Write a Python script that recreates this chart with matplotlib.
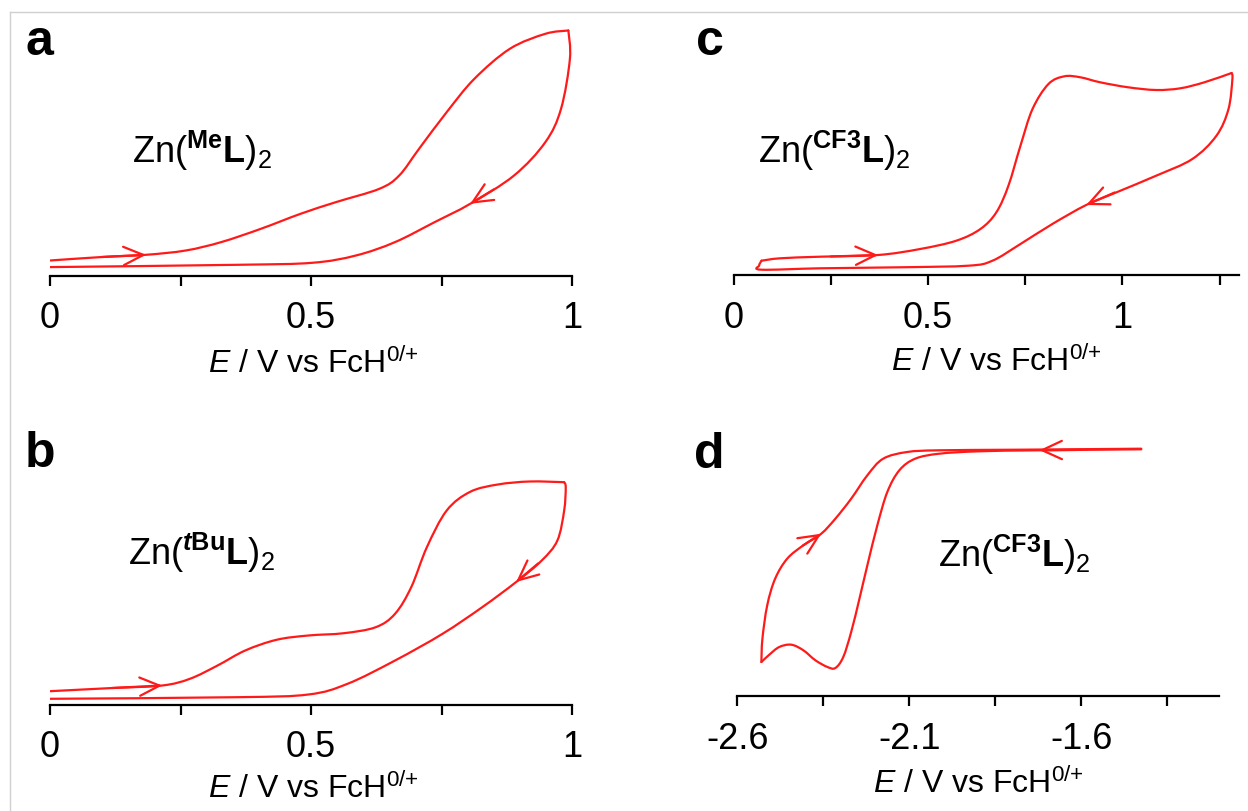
import matplotlib
matplotlib.use("Agg")
import matplotlib.pyplot as plt
import numpy as np
from matplotlib.lines import Line2D
from matplotlib.path import Path
from matplotlib.patches import PathPatch

plt.rcParams['font.family'] = ['Liberation Sans', 'DejaVu Sans']
plt.rcParams['mathtext.fontset'] = 'custom'
plt.rcParams['mathtext.rm'] = 'Liberation Sans'
plt.rcParams['mathtext.it'] = 'Liberation Sans:italic'
plt.rcParams['mathtext.bf'] = 'Liberation Sans:bold'
plt.rcParams['mathtext.bfit'] = 'Liberation Sans:italic:bold'

W, H = 1248, 812
RED = '#ff1a1a'

# current values are in arbitrary units (height above the baseline)
# panel a : Zn(MeL)2, oxidation
a_fwd_E = [0.0, 0.10, 0.184, 0.26, 0.328, 0.404, 0.48, 0.548, 0.631, 0.669, 0.707, 0.76, 0.813, 0.881, 0.949, 0.993]
a_fwd_i = [15, 18.5, 20.7, 25, 33.4, 46.7, 61.7, 73.4, 86.7, 100, 126.7, 163.4, 196.7, 226.7, 241.7, 245]
a_rev_E = [0.993, 0.996, 0.979, 0.949, 0.889, 0.805, 0.737, 0.661, 0.586, 0.502, 0.359, 0.0]
a_rev_i = [245, 216.7, 166.7, 133.4, 100, 71.7, 53.4, 33.4, 20, 12.7, 10.7, 8.4]

# panel b : Zn(tBuL)2, oxidation
b_fwd_E = [0.0, 0.12, 0.215, 0.268, 0.321, 0.374, 0.434, 0.495, 0.563, 0.624, 0.661, 0.692, 0.722, 0.76, 0.805, 0.858, 0.919, 0.985]
b_fwd_i = [13.3, 16.5, 19, 25.7, 39, 54, 64.7, 69, 71.3, 77.3, 90.7, 117.3, 157.3, 194, 212.7, 220, 223, 222.3]
b_rev_E = [0.985, 0.988, 0.985, 0.972, 0.942, 0.893, 0.828, 0.752, 0.661, 0.57, 0.495, 0.359, 0.0]
b_rev_i = [222.3, 217, 194, 164, 144, 122.5, 97.3, 70.7, 44, 20.7, 10, 7.3, 5.7]

# panel c : Zn(CF3L)2, oxidation
c_fwd_E = [0.072, 0.12, 0.223, 0.372, 0.48, 0.573, 0.635, 0.676, 0.707, 0.738, 0.769, 0.81, 0.851, 0.892, 0.943, 1.015, 1.087, 1.149, 1.211, 1.281]
c_fwd_i = [14.3, 16.7, 18.3, 20, 26, 34.3, 46, 62.7, 89.3, 129.3, 166, 191, 198.7, 197.7, 192.7, 187.7, 185, 186.7, 192.7, 202]
c_rev_E = [1.281, 1.283, 1.273, 1.242, 1.18, 1.087, 0.985, 0.907, 0.82, 0.738, 0.666, 0.604, 0.429, 0.223, 0.072, 0.066, 0.072]
c_rev_i = [202, 196, 166, 139.3, 116, 99.3, 82.7, 70, 51, 31, 14.3, 9.3, 7.7, 6.7, 5.3, 9.5, 14.3]

# panel d : Zn(CF3L)2, reduction
d_cat_E = [-1.426, -1.722, -1.897, -2.013, -2.083, -2.129, -2.164, -2.193, -2.222, -2.245, -2.269, -2.292, -2.315, -2.338, -2.373, -2.408, -2.443, -2.478, -2.507, -2.53]
d_cat_i = [246.7, 245.7, 244.7, 242.3, 237.3, 225.7, 204, 170.7, 130.7, 97.3, 64, 39, 28, 29, 35.7, 45.7, 51.3, 49, 41.3, 34]
d_an_E = [-2.53, -2.527, -2.513, -2.49, -2.455, -2.408, -2.356, -2.315, -2.269, -2.222, -2.176, -2.106, -2.013, -1.78, -1.426]
d_an_i = [34, 57.3, 90.7, 117.3, 137.3, 150.7, 162.3, 177.3, 197.3, 220.7, 237.3, 244, 245.7, 246.3, 247.3]

ticks_ab = [0, 0.25, 0.5, 0.75, 1.0]
ticks_c = [0, 0.25, 0.5, 0.75, 1.0, 1.25]
ticks_d = [-2.6, -2.35, -2.1, -1.85, -1.6, -1.35]
labels_ab = ['0', '', '0.5', '', '1']
labels_c = ['0', '', '0.5', '', '1', '']
labels_d = ['-2.6', '', '-2.1', '', '-1.6', '']

fig = plt.figure(figsize=(W / 100, H / 100), dpi=100)

# light grey frame of the screenshot
fig.add_artist(Line2D([10 / W, 1], [1 - 13 / H, 1 - 13 / H], color='#d0d0d0', lw=1))
fig.add_artist(Line2D([10 / W, 10 / W], [0, 1 - 13 / H], color='#d0d0d0', lw=1))


def make_axes(left, right, base, top, xlim, ticks, labels):
    ax = fig.add_axes([left / W, (H - base) / H, (right - left) / W, (base - top) / H])
    ax.set_xlim(*xlim)
    ax.set_ylim(0, base - top)
    for s in ['left', 'right', 'top']:
        ax.spines[s].set_visible(False)
    ax.spines['bottom'].set_linewidth(1.6)
    ax.set_yticks([])
    ax.set_xticks(ticks)
    ax.set_xticklabels(labels)
    ax.tick_params(axis='x', direction='out', length=7, width=1.6, pad=11, labelsize=26)
    ax.patch.set_alpha(0)
    return ax


def smooth_trace(ax, xs, ys):
    # draw the read points as a smooth curve (Catmull-Rom -> Bezier segments)
    xs = np.asarray(xs, float)
    ys = np.asarray(ys, float)
    xr = xs.max() - xs.min()
    sx = 1.0 / max(xr, 1e-9)
    p = np.column_stack([xs * sx * 500, ys])
    verts = [p[0]]
    codes = [Path.MOVETO]
    n = len(p)
    for k in range(n - 1):
        p0 = p[k - 1] if k > 0 else p[k]
        p1, p2 = p[k], p[k + 1]
        p3 = p[k + 2] if k + 2 < n else p[k + 1]
        c1 = p1 + (p2 - p0) / 6.0
        c2 = p2 - (p3 - p1) / 6.0
        verts += [c1, c2, p2]
        codes += [Path.CURVE4] * 3
    verts = np.array(verts)
    verts[:, 0] = verts[:, 0] / (sx * 500)
    ax.add_patch(PathPatch(Path(verts, codes), fill=False, edgecolor=RED, lw=1.6,
                           joinstyle='round', capstyle='round'))


def arrow(ax, tip, tail):
    ax.annotate('', xy=tip, xytext=tail,
                arrowprops=dict(arrowstyle='->,head_length=0.65,head_width=0.3',
                                color=RED, lw=1.6, mutation_scale=22,
                                shrinkA=0, shrinkB=0))


ax_a = make_axes(50, 572, 276.5, 20, (0, 1), ticks_ab, labels_ab)
smooth_trace(ax_a, a_fwd_E, a_fwd_i)
smooth_trace(ax_a, a_rev_E, a_rev_i)
arrow(ax_a, (0.184, 20.7), (0.10, 18.5))
arrow(ax_a, (0.805, 71.7), (0.85, 86))

ax_b = make_axes(50, 572, 705.5, 440, (0, 1), ticks_ab, labels_ab)
smooth_trace(ax_b, b_fwd_E, b_fwd_i)
smooth_trace(ax_b, b_rev_E, b_rev_i)
arrow(ax_b, (0.215, 19), (0.12, 16.5))
arrow(ax_b, (0.893, 122.5), (0.935, 141))

ax_c = make_axes(733.5, 1239, 276, 20, (0, 1.3), ticks_c, labels_c)
smooth_trace(ax_c, c_fwd_E, c_fwd_i)
smooth_trace(ax_c, c_rev_E, c_rev_i)
arrow(ax_c, (0.372, 20), (0.25, 18.5))
arrow(ax_c, (0.907, 70), (0.98, 82.5))

ax_d = make_axes(737.3, 1219, 697, 430, (-2.6, -1.2), ticks_d, labels_d)
smooth_trace(ax_d, d_cat_E, d_cat_i)
smooth_trace(ax_d, d_an_E, d_an_i)
arrow(ax_d, (-1.722, 245.8), (-1.60, 246.1))
arrow(ax_d, (-2.356, 162.3), (-2.41, 150.3))

# panel letters
for txt, x, y in [('a', 25, 55), ('b', 25, 467), ('c', 696, 55), ('d', 694, 468)]:
    fig.text(x / W, 1 - y / H, txt, fontsize=36, fontweight='bold', va='baseline', ha='left')

# compound labels
lab_me = r'$\mathrm{Zn(}^{\mathbf{Me}}\mathbf{L}\mathrm{)}_{2}$'
lab_tbu = r'$\mathrm{Zn(}^{\mathbfit{t}\mathbf{Bu}}\mathbf{L}\mathrm{)}_{2}$'
lab_cf3 = r'$\mathrm{Zn(}^{\mathbf{CF3}}\mathbf{L}\mathrm{)}_{2}$'
for txt, x, y in [(lab_me, 132, 163), (lab_tbu, 128, 565), (lab_cf3, 758, 163), (lab_cf3, 938, 567)]:
    fig.text(x / W, 1 - y / H, txt, fontsize=26, va='baseline', ha='left')

# axis titles
xlab = r'$\mathit{E}$ / V vs FcH$^{\mathrm{0/{+}}}$'
for x, y in [(313, 373), (313, 798), (996, 371), (978, 793)]:
    fig.text(x / W, 1 - y / H, xlab, fontsize=23, va='baseline', ha='center')

fig.savefig('out.png', dpi=100, facecolor='white')
